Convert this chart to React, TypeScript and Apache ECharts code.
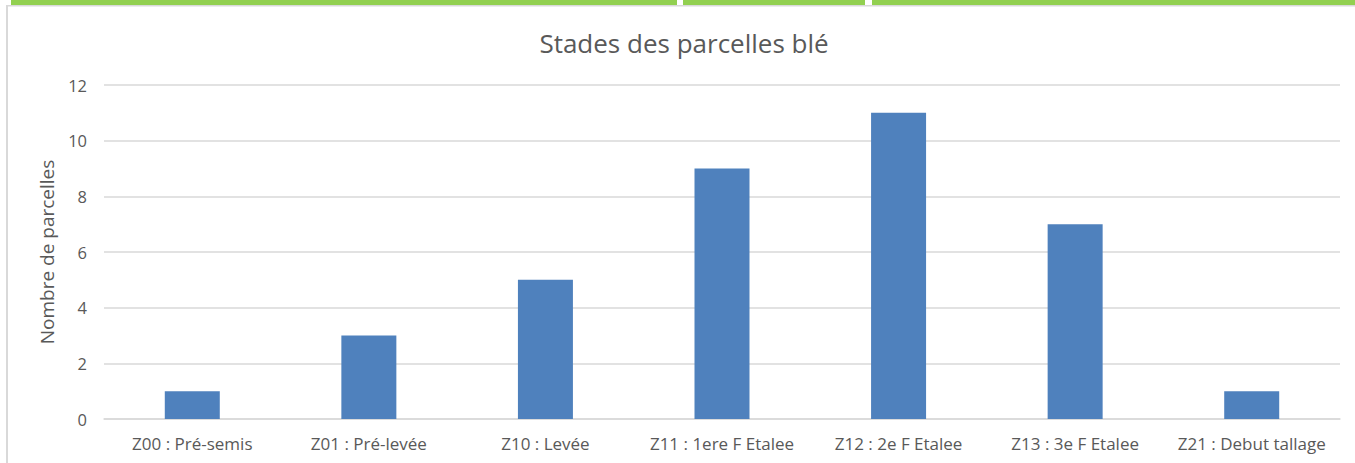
import React, { useEffect, useRef } from "react";
import * as echarts from "echarts";

const titleText = "Stades des parcelles blé";
const yAxisName = "Nombre de parcelles";
const categories = [
  "Z00 : Pré-semis",
  "Z01 : Pré-levée",
  "Z10 : Levée",
  "Z11 : 1ere F Etalee",
  "Z12 : 2e F Etalee",
  "Z13 : 3e F Etalee",
  "Z21 : Debut tallage",
];
const counts = [1, 3, 5, 9, 11, 7, 1];
const yTicks = { min: 0, max: 12, interval: 2 };

const FONT = "'Open Sans', 'Noto Sans', sans-serif";

export default function App() {
  const ref = useRef<HTMLDivElement>(null);
  useEffect(() => {
    if (!ref.current) return;
    const chart = echarts.init(ref.current, null, { renderer: "svg" });
    chart.setOption({
      animation: false,
      backgroundColor: "#ffffff",
      title: {
        text: titleText,
        left: 679,
        textAlign: "center",
        top: 25,
        textStyle: { fontFamily: FONT, fontSize: 26, fontWeight: "normal", color: "#595959" },
      },
      grid: { left: 104, right: 15, top: 85, bottom: 44, containLabel: false },
      xAxis: {
        type: "category",
        data: categories,
        axisLine: { lineStyle: { color: "#D9D9D9", width: 1.5 } },
        axisTick: { show: false },
        axisLabel: { fontFamily: FONT, fontSize: 17, color: "#595959", margin: 16, interval: 0 },
      },
      yAxis: {
        type: "value",
        min: yTicks.min,
        max: yTicks.max,
        interval: yTicks.interval,
        name: yAxisName,
        nameLocation: "middle",
        nameGap: 48,
        nameTextStyle: { fontFamily: FONT, fontSize: 19, color: "#595959" },
        axisLine: { show: false },
        axisTick: { show: false },
        axisLabel: { fontFamily: FONT, fontSize: 16.5, color: "#595959", margin: 17 },
        splitLine: { lineStyle: { color: "#D9D9D9", width: 1.5 } },
      },
      series: [
        {
          type: "bar",
          data: counts,
          barWidth: 55,
          itemStyle: { color: "#4F81BD" },
        },
      ],
      graphic: [
        { type: "rect", shape: { x: 11, y: 0, width: 1344, height: 5 }, style: { fill: "#92D050" } },
        { type: "rect", shape: { x: 677, y: 0, width: 6, height: 5 }, style: { fill: "#ffffff" } },
        { type: "rect", shape: { x: 865, y: 0, width: 7, height: 5 }, style: { fill: "#ffffff" } },
        { type: "rect", shape: { x: 6, y: 5, width: 1349, height: 1.5 }, style: { fill: "#D9D9D9" } },
        { type: "rect", shape: { x: 6, y: 5, width: 2, height: 458 }, style: { fill: "#D9D9D9" } },
      ],
    });
    return () => chart.dispose();
  }, []);
  return (
    <div
      ref={ref}
      style={{ position: "fixed", left: 0, top: 0, width: 1355, height: 463 }}
    />
  );
}
